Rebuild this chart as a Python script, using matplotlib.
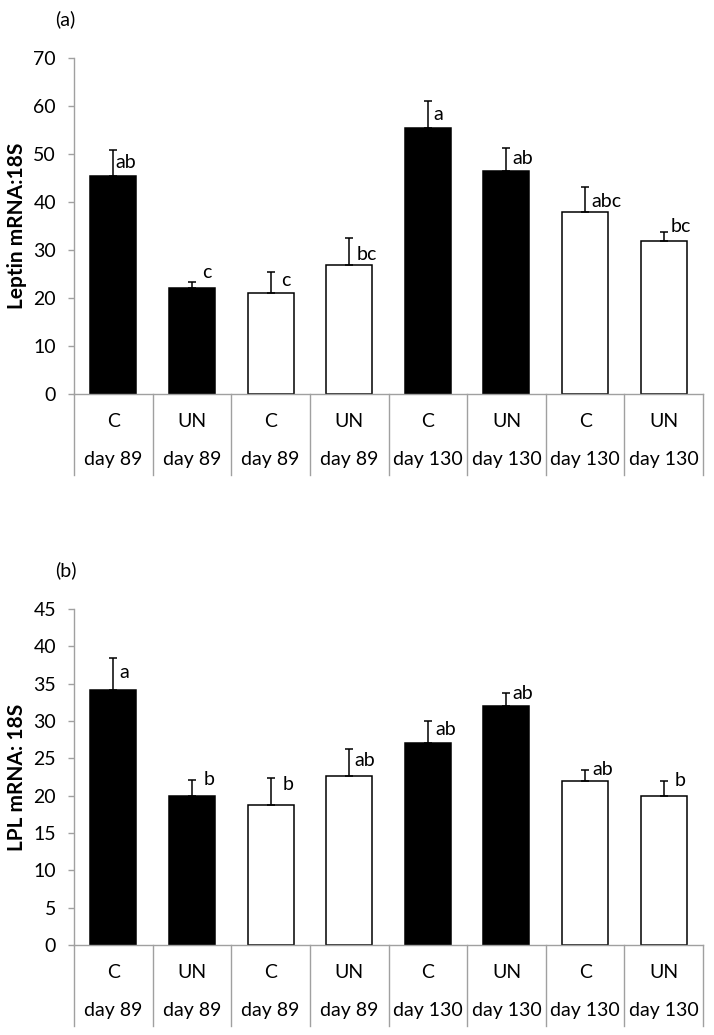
import matplotlib
matplotlib.use('Agg')
import matplotlib.pyplot as plt
from matplotlib.transforms import blended_transform_factory
from matplotlib.lines import Line2D

# ---------------- data ----------------
groups = ['C', 'UN', 'C', 'UN', 'C', 'UN', 'C', 'UN']
days = ['day 89', 'day 89', 'day 89', 'day 89', 'day 130', 'day 130', 'day 130', 'day 130']
bar_fill = ['black', 'black', 'white', 'white', 'black', 'black', 'white', 'white']

leptin_mean = [45.5, 22.2, 21.0, 26.9, 55.4, 46.6, 37.9, 31.9]
leptin_err = [5.3, 1.1, 4.4, 5.6, 5.8, 4.7, 5.2, 2.0]
leptin_letters = ['ab', 'c', 'c', 'bc', 'a', 'ab', 'abc', 'bc']

lpl_mean = [34.2, 19.9, 18.7, 22.6, 27.0, 32.0, 22.0, 19.9]
lpl_err = [4.3, 2.2, 3.6, 3.6, 3.0, 1.7, 1.4, 2.0]
lpl_letters = ['a', 'b', 'b', 'ab', 'ab', 'ab', 'ab', 'b']

# label placement (pixels): x from bar centre, baseline below cap
leptin_lab_dx = [2, 10, 11, 7, 6, 6, 6, 7]
leptin_lab_dy = [17.5, -4.3, 13.7, 21.7, 19.3, 16.3, 19.4, 0]
lpl_lab_dx = [6, 12, 12.5, 5.5, 8, 6, 7, 11]
lpl_lab_dy = [20.6, 5.4, 11.7, 16.4, 13.6, 5.3, 4.7, 5]

DPI = 100
W, H = 714, 1035
FONT = 'Lato'
FS = 14
GRAY = '#a0a0a0'
PT = 72.0 / DPI

plt.rcParams['font.family'] = [FONT, 'DejaVu Sans']

fig = plt.figure(figsize=(W / DPI, H / DPI), dpi=DPI)


def draw_panel(top_px, means, errs, letters, ldx, ldy, ymax, ystep, ylabel, plabel, plabel_y):
    left_px, right_px = 74, 703
    h_px = 336
    ax = fig.add_axes([left_px / W, 1 - (top_px + h_px) / H, (right_px - left_px) / W, h_px / H])
    x = list(range(len(means)))
    ax.bar(x, means, width=0.585, color=bar_fill, edgecolor='black', linewidth=1.1, zorder=2)
    ax.errorbar(x, means, yerr=[[0] * len(errs), errs], fmt='none', ecolor='black',
                elinewidth=1.1, capsize=2.8, capthick=1.1, zorder=3)
    for i, (m, e, t) in enumerate(zip(means, errs, letters)):
        ax.annotate(t, xy=(i, m + e), xytext=(ldx[i] * PT, -ldy[i] * PT),
                    textcoords='offset points', ha='left', va='baseline',
                    fontsize=FS, family=FONT, color='black', zorder=4)
    ax.set_xlim(-0.5, len(means) - 0.5)
    ax.set_ylim(0, ymax)
    ax.set_yticks(list(range(0, ymax + 1, ystep)))
    ax.tick_params(axis='y', direction='out', length=6 * PT, width=1, color=GRAY,
                   labelsize=FS, pad=12 * PT)
    for lab in ax.get_yticklabels():
        lab.set_family(FONT)
    ax.set_xticks([])
    for s in ['top', 'right']:
        ax.spines[s].set_visible(False)
    for s in ['left', 'bottom']:
        ax.spines[s].set_color(GRAY)
        ax.spines[s].set_linewidth(1)
    trans = blended_transform_factory(ax.transData, ax.transAxes)
    for b in range(len(means) + 1):
        ax.add_line(Line2D([b - 0.5, b - 0.5], [0, -81 / h_px], transform=trans,
                           color=GRAY, lw=1, clip_on=False))
    for i in range(len(means)):
        ax.text(i, -27.5 / h_px, groups[i], transform=trans, ha='center', va='center',
                fontsize=FS, family=FONT)
        ax.text(i, -65.5 / h_px, days[i], transform=trans, ha='center', va='center',
                fontsize=FS, family=FONT)
    fig.text(17 / W, 1 - (top_px + h_px / 2) / H, ylabel, rotation=90, ha='center',
             va='center', fontsize=15, fontweight='bold', family=FONT)
    fig.text(55 / W, 1 - plabel_y / H, plabel, ha='left', va='center', fontsize=FS, family=FONT)
    return ax


draw_panel(58.3, leptin_mean, leptin_err, leptin_letters, leptin_lab_dx, leptin_lab_dy,
           70, 10, 'Leptin mRNA:18S', '(a)', 19.5)
draw_panel(609, lpl_mean, lpl_err, lpl_letters, lpl_lab_dx, lpl_lab_dy,
           45, 5, 'LPL mRNA: 18S', '(b)', 570)

fig.savefig('out.png', dpi=DPI, facecolor='white')
